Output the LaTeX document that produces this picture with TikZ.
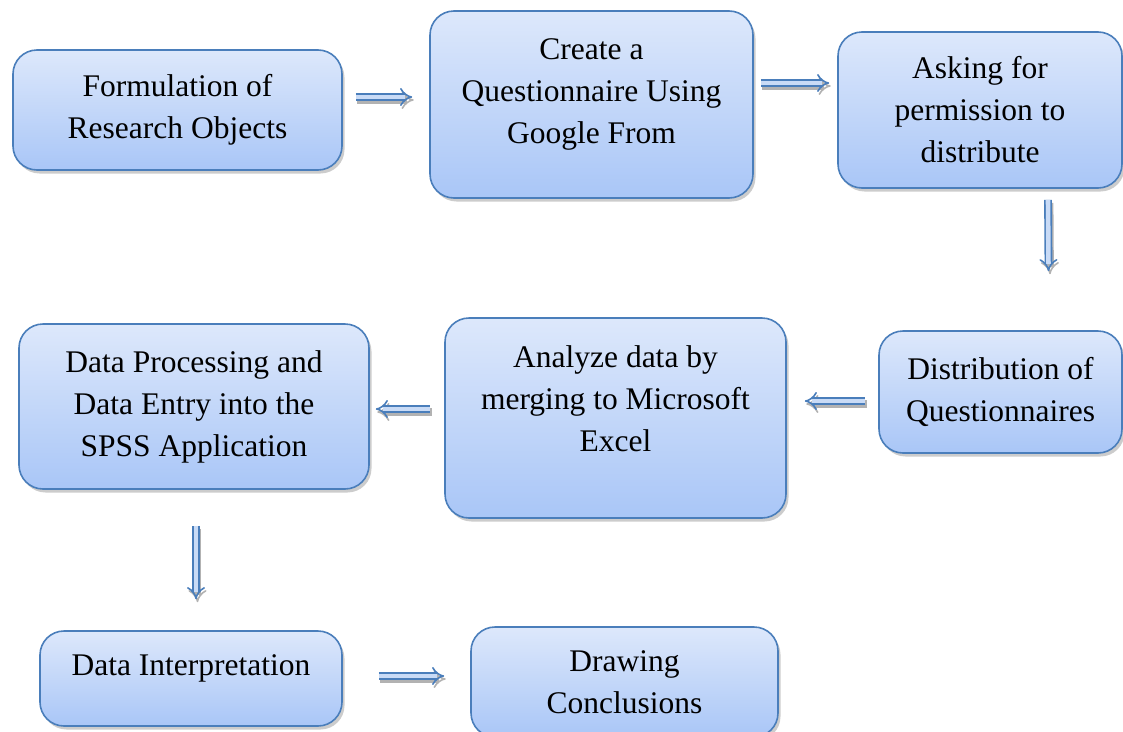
\documentclass[tikz,border=0pt]{standalone}
\usepackage{fontspec}
\setmainfont{Liberation Serif}
\usepackage{tikz}
\usetikzlibrary{arrows.meta,shadows}

\definecolor{boxtop}{HTML}{DDE8FB}
\definecolor{boxbot}{HTML}{A9C6F7}
\definecolor{boxline}{HTML}{4A7EBB}
\definecolor{arrfill}{HTML}{C9DBF6}

\begin{document}
\begin{tikzpicture}[x=1pt,y=-1pt,
  box/.style={draw=boxline,line width=1.6pt,rounded corners=24pt,
    top color=boxtop,bottom color=boxbot,
    drop shadow={shadow xshift=2.5pt,shadow yshift=-3.5pt,fill=black!40},
    align=center,font=\fontsize{31.5}{42}\selectfont},
  txt/.style={align=center,font=\fontsize{31.5}{42}\selectfont},
  flow/.style={draw=boxline,line width=1.6pt,double=arrfill,double distance=4.6pt,
    -{Implies}},
  flowshadow/.style={flow,draw=black!30,double=black!30,
    transform canvas={shift={(1.5pt,-3pt)}}}]
  \useasboundingbox (0,0) rectangle (1123,731);

  \node[box,minimum width=329,minimum height=120] (form) at (177.5,110)
    {Formulation of\\Research Objects};
  \node[box,minimum width=323,minimum height=187,
    label={[txt,yshift=10.5]center:Create a\\Questionnaire Using\\Google From}] (quest) at (591.5,104.5) {};
  \node[box,minimum width=284,minimum height=156] (ask) at (980,110)
    {Asking for\\permission to\\distribute};
  \node[box,minimum width=243,minimum height=122] (distr) at (1000.5,392)
    {Distribution of\\Questionnaires};
  \node[box,minimum width=341,minimum height=200,
    label={[txt,yshift=19]center:Analyze data by\\merging to Microsoft\\Excel}] (analyze) at (615.5,418) {};
  \node[box,minimum width=350,minimum height=165] (proc) at (194,406.5)
    {Data Processing and\\Data Entry into the\\SPSS Application};
  \node[box,minimum width=302,minimum height=95,
    label={[txt,yshift=10.5]center:Data Interpretation}] (interp) at (191,678.5) {};
  \node[box,minimum width=307,minimum height=110] (concl) at (624.5,682)
    {Drawing\\Conclusions};

  % block arrows between the steps
  \foreach \s/\e in {
      {([shift={(13,-13)}]form.east)}/{([shift={(-17,-7.5)}]quest.west)},
      {([shift={(7,-21.5)}]quest.east)}/{([shift={(-8,-27)}]ask.west)},
      {([shift={(68,11)}]ask.south)}/{([shift={(48,-59)}]distr.north)},
      {([shift={(-13,9)}]distr.west)}/{([shift={(18,-17)}]analyze.east)},
      {([shift={(-14,-9)}]analyze.west)}/{([shift={(6,2.5)}]proc.east)},
      {([shift={(2,36)}]proc.south)}/{([shift={(5,-31)}]interp.north)},
      {([shift={(36,-2.5)}]interp.east)}/{([shift={(-26,-6)}]concl.west)}}
  {
    \draw[flowshadow] \s -- \e;
    \draw[flow] \s -- \e;
  }
\end{tikzpicture}
\end{document}
